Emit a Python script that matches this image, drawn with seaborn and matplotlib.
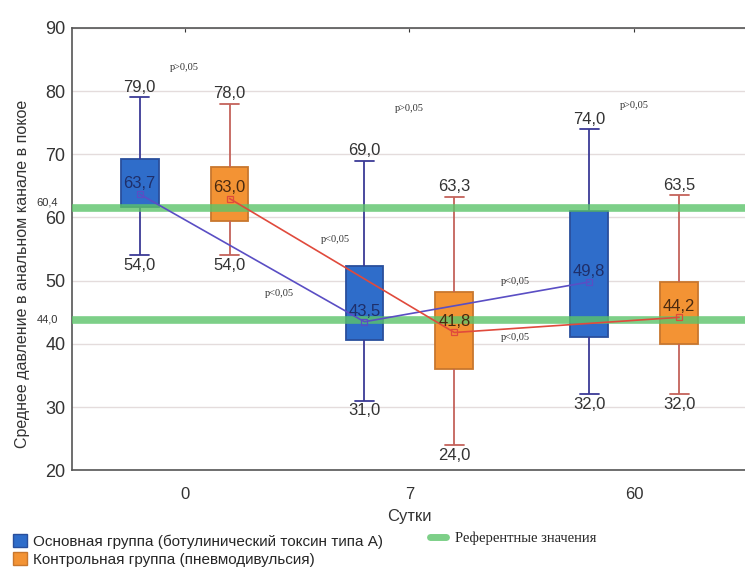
import numpy as np
import pandas as pd
import seaborn as sns
import matplotlib.pyplot as plt
from matplotlib.patches import Patch
from matplotlib.lines import Line2D
import matplotlib.transforms as mtransforms

days = ["0", "7", "60"]
groups = ["Основная группа (ботулинический токсин типа А)",
          "Контрольная группа (пневмодивульсия)"]

main_low = [54.0, 31.0, 32.0]
main_q1 = [61.6, 40.6, 41.1]
main_q3 = [69.3, 52.4, 61.0]
main_high = [79.0, 69.0, 74.0]
main_mean = [63.7, 43.5, 49.8]

ctrl_low = [54.0, 24.0, 32.0]
ctrl_q1 = [59.5, 36.0, 40.0]
ctrl_q3 = [68.0, 48.2, 49.8]
ctrl_high = [78.0, 63.3, 63.5]
ctrl_mean = [63.0, 41.8, 44.2]

ref_levels = [61.5, 43.8]
ref_labels = ["60,4", "44,0"]

p_notes = [(0.0, 83.8, "p>0,05"), (1.0, 77.3, "p>0,05"), (2.0, 77.8, "p>0,05"),
           (0.67, 56.5, "p<0,05"), (0.42, 47.9, "p<0,05"),
           (1.47, 49.8, "p<0,05"), (1.47, 41.0, "p<0,05")]

box_fill = {groups[0]: "#2f6dca", groups[1]: "#f39334"}
box_edge = ["#2a4f9c", "#c8772e"]
whisk_col = ["#3b3a96", "#c4625a"]
line_col = {groups[0]: "#5a4ec4", groups[1]: "#e04a3c"}
label_col = ["#1f2f6a", "#4a2a10"]

stats = {groups[0]: (main_low, main_q1, main_mean, main_q3, main_high),
         groups[1]: (ctrl_low, ctrl_q1, ctrl_mean, ctrl_q3, ctrl_high)}

rows = []
for g in groups:
    for i, d in enumerate(days):
        for arr in stats[g]:
            rows.append({"day": d, "group": g, "value": arr[i]})
long = pd.DataFrame(rows)
means = pd.DataFrame({"day": days * 2, "group": [groups[0]] * 3 + [groups[1]] * 3,
                      "mean": main_mean + ctrl_mean})

sns.set_style("white")
plt.rcParams["font.family"] = ["Liberation Sans", "DejaVu Sans"]

fig = plt.figure(figsize=(7.45, 5.7), dpi=100)
ax = fig.add_axes([0.097, 0.175, 0.905, 0.776])

sns.boxplot(data=long, x="day", y="value", hue="group", order=days, hue_order=groups,
            palette=box_fill, saturation=1, width=0.8, gap=0.58, whis=(0, 100),
            linecolor="#333333", linewidth=1.3, legend=False, ax=ax,
            medianprops={"alpha": 0})

# whiskers / caps / box edges coloured per group (left box = main, right box = control)
for ln in list(ax.lines):
    xd = np.asarray(ln.get_xdata(), dtype=float)
    if xd.size == 0:
        continue
    k = 0 if np.mean(xd) - round(np.mean(xd)) < 0 else 1
    ln.set_color(whisk_col[k])
for p in ax.patches:
    verts = p.get_path().vertices
    xm = verts[:, 0].mean()
    k = 0 if xm - round(xm) < 0 else 1
    p.set_edgecolor(box_edge[k])

for lvl in ref_levels:
    ax.axhline(lvl, color="#5cc46a", lw=5.5, alpha=0.8, zorder=3)

sns.pointplot(data=means, x="day", y="mean", hue="group", order=days, hue_order=groups,
              palette=line_col, dodge=0.4, markers="s", markersize=4, linewidth=1.2,
              errorbar=None, legend=False, ax=ax, markerfacecolor="none")
for ln in ax.lines[-2:]:
    ln.set_zorder(4)

offsets = [-0.2, 0.2]
for k, g in enumerate(groups):
    low, q1, mn, q3, high = stats[g]
    for i in range(len(days)):
        x = i + offsets[k]
        ax.text(x, high[i] + 0.4, f"{high[i]:.1f}".replace(".", ","), ha="center",
                va="bottom", fontsize=12, color="#333333", zorder=6)
        ax.text(x, low[i] - 0.4, f"{low[i]:.1f}".replace(".", ","), ha="center",
                va="top", fontsize=12, color="#333333", zorder=6)
        ax.text(x, mn[i] + 1.7, f"{mn[i]:.1f}".replace(".", ","), ha="center",
                va="center", fontsize=12, color=label_col[k], zorder=6)

for x, y, t in p_notes:
    ax.text(x, y, t, ha="center", va="center", fontsize=7.5, color="#333333",
            family=["Liberation Serif", "DejaVu Serif"], zorder=6)

trans = mtransforms.blended_transform_factory(ax.transAxes, ax.transData)
for lvl, lab, dy in zip(ref_levels, ref_labels, [0.8, 0.0]):
    ax.text(-0.021, lvl + dy, lab, transform=trans, ha="right", va="center",
            fontsize=8, color="#333333")

ax.set_xlim(-0.5, 2.5)
ax.set_ylim(20, 90)
ax.set_yticks(range(20, 91, 10))
ax.yaxis.grid(True, color="#e4dcdc", lw=1)
ax.set_axisbelow(True)
ax.tick_params(axis="y", labelsize=13, colors="#333333", length=3, direction="out", pad=2)
ax.tick_params(axis="x", labelsize=12, colors="#333333", length=3, direction="in", pad=12, top=True)
ax.set_xlabel("Сутки", fontsize=12, color="#333333", labelpad=5)
ax.set_ylabel("")
for side in ["left", "bottom", "top"]:
    ax.spines[side].set_color("#555555")
    ax.spines[side].set_linewidth(1.2)
ax.spines["right"].set_visible(False)

fig.text(0.03, 0.52, "Среднее давление в анальном канале в покое", rotation=90,
         ha="center", va="center", fontsize=11.5, color="#333333")

h1 = [Patch(facecolor=box_fill[g], edgecolor=box_edge[k]) for k, g in enumerate(groups)]
fig.legend(h1, groups, loc="lower left", bbox_to_anchor=(0.005, -0.01), frameon=False,
           fontsize=11, handlelength=0.9, handleheight=0.9, handletextpad=0.4,
           labelspacing=0.2, borderaxespad=0.2)
h2 = [Line2D([], [], color="#5cc46a", lw=5, alpha=0.8)]
fig.legend(h2, ["Референтные значения"], loc="lower left", bbox_to_anchor=(0.56, 0.02),
           frameon=False, handlelength=1.1, handletextpad=0.6,
           prop={"family": ["Liberation Serif", "DejaVu Serif"], "size": 10.5})

fig.savefig("out.png", dpi=100)
